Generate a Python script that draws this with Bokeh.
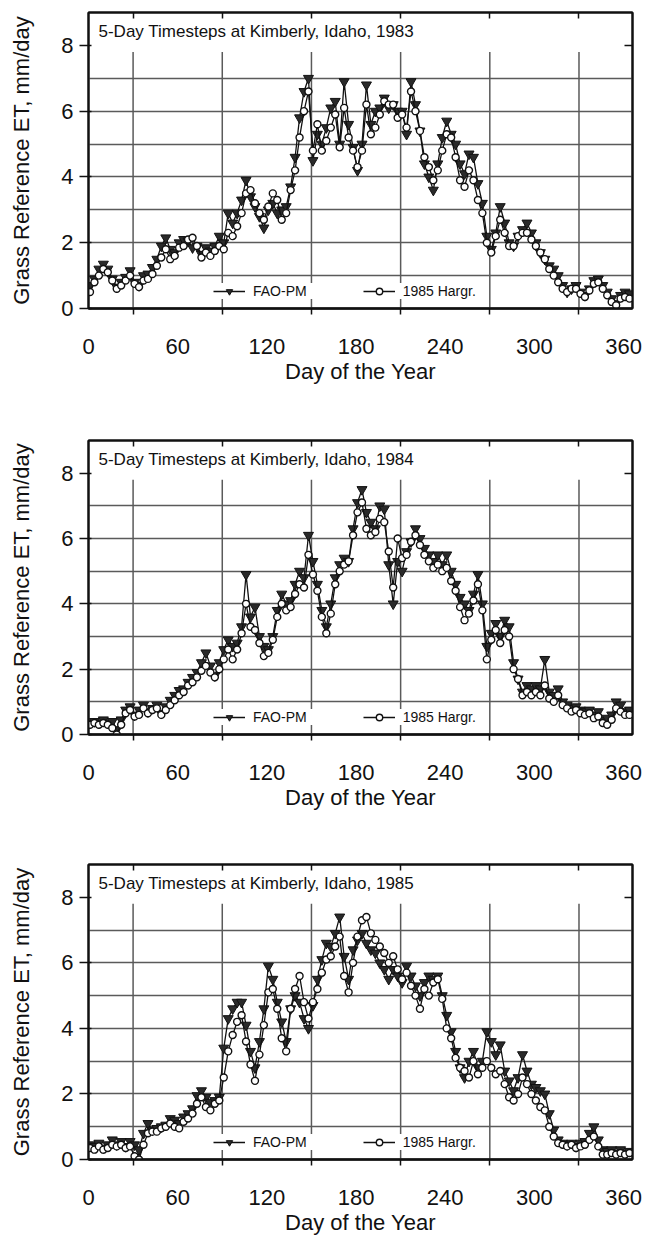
from bokeh.plotting import figure
from bokeh.layouts import column
from bokeh.models import FixedTicker, LinearAxis, Label, Legend, LegendItem, Range1d
from bokeh.embed import file_html
from bokeh.resources import INLINE

# Day of year for each plotted value (every third day)
days = list(range(1, 365, 3))

# Grass reference ET (mm/day), FAO Penman-Monteith
fao_1983 = [
    0.7, 0.9, 1.2, 1.35, 1.2, 0.9, 0.65, 0.8, 0.95, 1.15,
    0.8, 0.7, 1.0, 1.05, 1.25, 1.5, 1.9, 2.15, 1.8, 1.7,
    2.0, 2.1, 2.05, 1.85, 1.9, 1.65, 1.85, 1.75, 1.9, 2.2,
    2.0, 2.9, 2.6, 2.9, 3.3, 3.9, 3.4, 3.1, 2.8, 2.45,
    3.0, 3.2, 2.9, 3.0, 3.1, 3.7, 4.6, 5.8, 6.6, 7.0,
    4.5, 5.3, 5.0, 5.5, 6.1, 6.3, 5.0, 6.9, 5.6, 4.9,
    4.2, 5.0, 6.8, 5.6, 6.0, 6.1, 6.4, 6.1, 6.2, 6.0,
    6.0, 5.3, 6.9, 6.2, 5.4, 4.4, 4.0, 3.6, 4.4, 5.2,
    5.7, 5.3, 5.0, 4.4, 4.1, 4.7, 4.6, 3.8, 3.2, 2.2,
    1.8, 2.3, 3.1, 2.6, 2.0, 1.9, 2.2, 2.4, 2.6, 2.3,
    2.0, 1.7, 1.5, 1.3, 1.2, 1.0, 0.7, 0.5, 0.6, 0.7,
    0.5, 0.4, 0.6, 0.85, 0.9, 0.7, 0.5, 0.3, 0.15, 0.4,
    0.5, 0.45,
]
fao_1984 = [
    0.35, 0.4, 0.35, 0.45, 0.35, 0.4, 0.15, 0.45, 0.75, 0.85,
    0.6, 0.75, 0.9, 0.7, 0.8, 0.9, 0.65, 0.85, 1.05, 1.2,
    1.35, 1.4, 1.6, 1.75, 1.9, 2.2, 2.5, 2.1, 1.8, 2.2,
    2.6, 2.9, 2.7, 2.8, 3.3, 4.9, 3.6, 3.9, 3.0, 2.7,
    2.6, 3.0, 3.8, 4.3, 4.0, 4.1, 4.6, 5.0, 4.8, 6.1,
    5.3, 4.6, 3.8, 3.3, 4.0, 4.8, 5.2, 5.4, 5.3, 6.3,
    7.1, 7.5, 6.8, 6.5, 6.3, 7.0, 6.9, 5.2, 4.0, 5.3,
    5.0, 5.6, 5.9, 6.3, 6.0, 5.7, 5.5, 5.3, 5.5, 5.2,
    5.5, 5.0, 4.6, 4.2, 4.0, 3.8, 4.3, 4.9, 4.0, 2.7,
    3.1, 3.4, 3.0, 3.5, 3.3, 2.2, 1.7, 1.3, 1.5, 1.4,
    1.5, 1.4, 2.3, 1.3, 1.2, 1.4, 1.0, 0.9, 0.8, 0.85,
    0.75, 0.7, 0.75, 0.6, 0.7, 0.45, 0.5, 0.6, 1.0, 0.9,
    0.7, 0.75,
]
fao_1985 = [
    0.45, 0.4, 0.5, 0.35, 0.45, 0.6, 0.45, 0.55, 0.4, 0.55,
    0.45, 0.3, 0.8, 1.1, 0.9, 0.95, 1.0, 1.05, 1.25, 1.2,
    1.1, 1.3, 1.4, 1.55, 1.95, 2.1, 1.9, 1.75, 1.8, 1.9,
    3.4, 4.3, 4.6, 4.8, 4.8, 4.1, 3.3, 2.8, 3.6, 4.6,
    5.9, 5.5, 4.8, 4.2, 3.6, 4.6, 5.0, 4.8, 4.3, 4.0,
    4.7, 5.5, 6.1, 6.6, 6.5, 6.9, 7.4, 6.2, 5.5, 6.4,
    6.7, 6.9, 6.6, 6.4, 6.3, 6.0, 5.8, 5.5, 5.8, 5.6,
    5.4, 5.9, 5.6, 5.3, 5.0, 5.4, 5.6, 5.5, 5.6, 5.0,
    4.4, 3.9, 3.3, 2.8, 2.5, 3.0, 3.3, 2.8, 3.0, 3.9,
    3.6, 3.2, 3.5, 2.7, 2.4, 2.1, 2.5, 3.2, 2.7, 2.3,
    2.2, 2.1, 2.0, 1.4, 0.9, 0.6, 0.5, 0.45, 0.5, 0.4,
    0.5, 0.55, 0.8, 1.0, 0.6, 0.3, 0.25, 0.3, 0.2, 0.3,
    0.2, 0.25,
]

# Grass reference ET (mm/day), 1985 Hargreaves
harg_1983 = [
    0.5, 0.8, 1.0, 1.2, 1.1, 0.85, 0.6, 0.7, 0.85, 1.0,
    0.75, 0.65, 0.85, 0.9, 1.05, 1.3, 1.55, 1.8, 1.5, 1.6,
    1.85, 1.9, 2.1, 2.15, 1.9, 1.55, 1.7, 1.6, 1.75, 1.9,
    1.8, 2.3, 2.2, 2.5, 2.9, 3.5, 3.6, 3.2, 2.9, 2.7,
    3.1, 3.5, 3.3, 2.7, 2.9, 3.6, 4.2, 5.2, 6.0, 6.6,
    4.8, 5.6, 4.8, 5.1, 5.5, 5.9, 4.9, 6.1, 5.2, 4.8,
    4.3, 4.8, 6.2, 5.3, 5.5, 5.9, 6.3, 6.2, 6.2, 5.8,
    5.9, 5.5, 6.6, 6.0, 5.4, 4.6, 4.3, 3.9, 4.2, 4.8,
    5.3, 5.2, 4.6, 3.9, 3.7, 4.2, 3.9, 3.3, 2.9, 2.0,
    1.7, 2.2, 2.7, 2.3, 1.9, 1.9, 2.2, 2.3, 2.3, 2.1,
    1.9, 1.7, 1.5, 1.2, 1.0, 0.8, 0.6, 0.5, 0.6, 0.6,
    0.45, 0.35, 0.55, 0.75, 0.8, 0.6, 0.4, 0.2, 0.1, 0.3,
    0.35, 0.3,
]
harg_1984 = [
    0.3, 0.35, 0.3, 0.35, 0.3, 0.2, 0.0, 0.3, 0.65, 0.75,
    0.55, 0.6, 0.8, 0.65, 0.75, 0.8, 0.6, 0.75, 0.9, 1.05,
    1.2, 1.3, 1.5, 1.6, 1.75, 1.95, 2.1, 1.9, 1.75, 2.0,
    2.3, 2.6, 2.3, 2.6, 3.1, 4.0, 3.3, 3.2, 2.8, 2.4,
    2.5, 2.9, 3.6, 4.0, 3.8, 3.9, 4.3, 4.6, 4.5, 5.5,
    4.9, 4.4, 3.6, 3.1, 3.7, 4.6, 5.0, 5.2, 5.3, 6.1,
    6.8, 7.1, 6.3, 6.1, 6.2, 6.6, 6.5, 5.6, 4.5, 6.0,
    5.4, 5.5, 5.9, 6.1, 5.8, 5.5, 5.3, 5.1, 5.2, 5.0,
    5.1, 4.7, 4.4, 3.9, 3.5, 3.7, 4.1, 4.6, 3.8, 2.3,
    2.9, 3.2, 2.8, 3.2, 3.0, 2.0, 1.7, 1.2, 1.3, 1.2,
    1.3, 1.2, 1.5, 1.1, 1.0, 1.2, 0.9, 0.8, 0.7, 0.75,
    0.65, 0.6, 0.65, 0.5, 0.55, 0.35, 0.3, 0.45, 0.8, 0.7,
    0.6, 0.6,
]
harg_1985 = [
    0.35, 0.3, 0.4, 0.3, 0.35, 0.45, 0.4, 0.45, 0.35, 0.4,
    0.1, 0.0, 0.45, 0.8, 0.85, 0.85, 0.95, 1.0, 1.1, 1.0,
    0.95, 1.15, 1.25, 1.4, 1.7, 1.9, 1.6, 1.5, 1.7, 1.8,
    2.5, 3.3, 3.8, 4.2, 4.4, 3.6, 2.9, 2.4, 3.2, 4.1,
    5.1, 5.2, 4.6, 3.7, 3.3, 4.6, 5.2, 5.6, 4.8, 4.3,
    4.8, 5.2, 5.7, 6.1, 6.2, 6.5, 6.8, 5.6, 5.1, 6.0,
    6.8, 7.3, 7.4, 6.9, 6.7, 6.5, 6.3, 6.0, 6.2, 5.8,
    5.5, 5.7, 5.3, 5.0, 4.6, 5.2, 5.0, 5.4, 5.5, 4.9,
    4.0, 3.7, 3.1, 2.8, 2.7, 2.5, 3.0, 2.6, 2.8, 3.0,
    2.8, 2.6, 2.7, 2.3, 1.9, 1.8, 2.0, 2.5, 2.3, 2.0,
    1.8, 1.6, 1.5, 1.0, 0.7, 0.5, 0.45, 0.4, 0.45, 0.35,
    0.4, 0.45, 0.6, 0.7, 0.4, 0.15, 0.15, 0.2, 0.15, 0.2,
    0.15, 0.2,
]

years = [1983, 1984, 1985]
fao_series = [fao_1983, fao_1984, fao_1985]
harg_series = [harg_1983, harg_1984, harg_1985]

x_labels = [0, 60, 120, 180, 240, 300, 360]
x_marks = [30, 90, 150, 210, 270, 330]
y_labels = [0, 2, 4, 6, 8]
y_lines = [1, 2, 3, 4, 5, 6, 7]

FONT = "Liberation Sans"
INK = "#111111"
GRID = "#5a5a5a"
VGRID_TOP = 7.8

# (figure height, top border, frame height) for each stacked panel
layout_rows = [(428, 12, 296), (424, 12, 294), (388, 12, 295)]


def tick_only_axis(ticks, tick_in):
    """Unlabelled axis that only draws inward tick marks along a frame edge."""
    return LinearAxis(ticker=FixedTicker(ticks=ticks), major_tick_in=tick_in, major_tick_out=0,
                      minor_tick_line_color=None, axis_line_width=2, axis_line_color=INK,
                      major_tick_line_color=INK, major_tick_line_width=1.5,
                      major_label_text_color=None, major_label_standoff=0)


def make_panel(year, fao, harg, fig_h, top, frame_h):
    p = figure(
        width=646, height=fig_h,
        x_range=Range1d(0, 366), y_range=Range1d(0, 9),
        min_border_left=88, min_border_right=14,
        min_border_top=top, min_border_bottom=fig_h - top - frame_h,
        output_backend="svg", toolbar_location=None,
        background_fill_color="white", border_fill_color="white",
        outline_line_color=INK, outline_line_width=2,
    )

    # grid: horizontal lines at every unit, vertical lines at the odd 30-day marks
    p.xgrid.visible = False
    p.ygrid.ticker = FixedTicker(ticks=y_lines)
    p.ygrid.grid_line_color = GRID
    p.ygrid.grid_line_width = 1.5
    p.segment(x0=x_marks, y0=0, x1=x_marks, y1=VGRID_TOP,
              line_color=GRID, line_width=1.5)

    # bottom axis
    xa = p.xaxis[0]
    xa.ticker = FixedTicker(ticks=x_labels, minor_ticks=x_marks)
    xa.major_tick_in = 0
    xa.major_tick_out = 0
    xa.minor_tick_in = 0
    xa.minor_tick_out = 6
    xa.minor_tick_line_color = INK
    xa.minor_tick_line_width = 1.5
    xa.axis_line_width = 2.5
    xa.axis_line_color = INK
    xa.major_label_standoff = 24
    xa.major_label_text_font = FONT
    xa.major_label_text_font_size = "22px"
    xa.major_label_text_color = INK
    xa.axis_label = "Day of the Year"
    xa.axis_label_standoff = 2
    xa.axis_label_text_font = FONT
    xa.axis_label_text_font_size = "22px"
    xa.axis_label_text_font_style = "normal"
    xa.axis_label_text_color = INK

    # left axis
    ya = p.yaxis[0]
    ya.ticker = FixedTicker(ticks=y_labels)
    ya.major_tick_in = 3
    ya.major_tick_out = 9
    ya.major_tick_line_width = 1.5
    ya.major_tick_line_color = INK
    ya.minor_tick_line_color = None
    ya.axis_line_width = 2
    ya.axis_line_color = INK
    ya.major_label_standoff = 6
    ya.major_label_text_font = FONT
    ya.major_label_text_font_size = "22px"
    ya.major_label_text_color = INK
    ya.axis_label = "Grass Reference ET, mm/day"
    ya.axis_label_standoff = 24
    ya.axis_label_text_font = FONT
    ya.axis_label_text_font_size = "22px"
    ya.axis_label_text_font_style = "normal"
    ya.axis_label_text_color = INK

    # mirrored tick marks on the right and top edges
    p.add_layout(tick_only_axis([8], 8), "right")
    p.add_layout(tick_only_axis(x_marks, 6), "above")

    # series
    fao_line = p.line(days, fao, line_color=INK, line_width=1.3)
    fao_pts = p.scatter(days, fao, marker="inverted_triangle", size=10,
                        fill_color="#2a2a2a", line_color=INK, line_width=1)
    harg_line = p.line(days, harg, line_color=INK, line_width=1.3)
    harg_pts = p.scatter(days, harg, marker="circle", size=7,
                         fill_color="white", line_color=INK, line_width=1.4)

    legend = Legend(
        items=[LegendItem(label="FAO-PM", renderers=[fao_line, fao_pts]),
               LegendItem(label="1985 Hargr.", renderers=[harg_line, harg_pts])],
        location=(125, 9), orientation="horizontal",
        glyph_width=32, glyph_height=16, label_standoff=8, spacing=56,
        padding=8, margin=0, border_line_color=None,
        background_fill_color="white", background_fill_alpha=1.0,
        label_text_font=FONT, label_text_font_size="14px", label_text_color=INK,
    )
    p.add_layout(legend)

    p.add_layout(Label(
        x=10, y=frame_h - 9, x_units="screen", y_units="screen",
        text=f"5-Day Timesteps at Kimberly, Idaho, {year}",
        text_font=FONT, text_font_size="17px", text_color=INK,
        text_baseline="top", text_align="left",
    ))
    return p


panels = [make_panel(y, f, h, *row)
          for y, f, h, row in zip(years, fao_series, harg_series, layout_rows)]

page = column(*panels, spacing=0)
open("out.html", "w").write(file_html(page, INLINE))
